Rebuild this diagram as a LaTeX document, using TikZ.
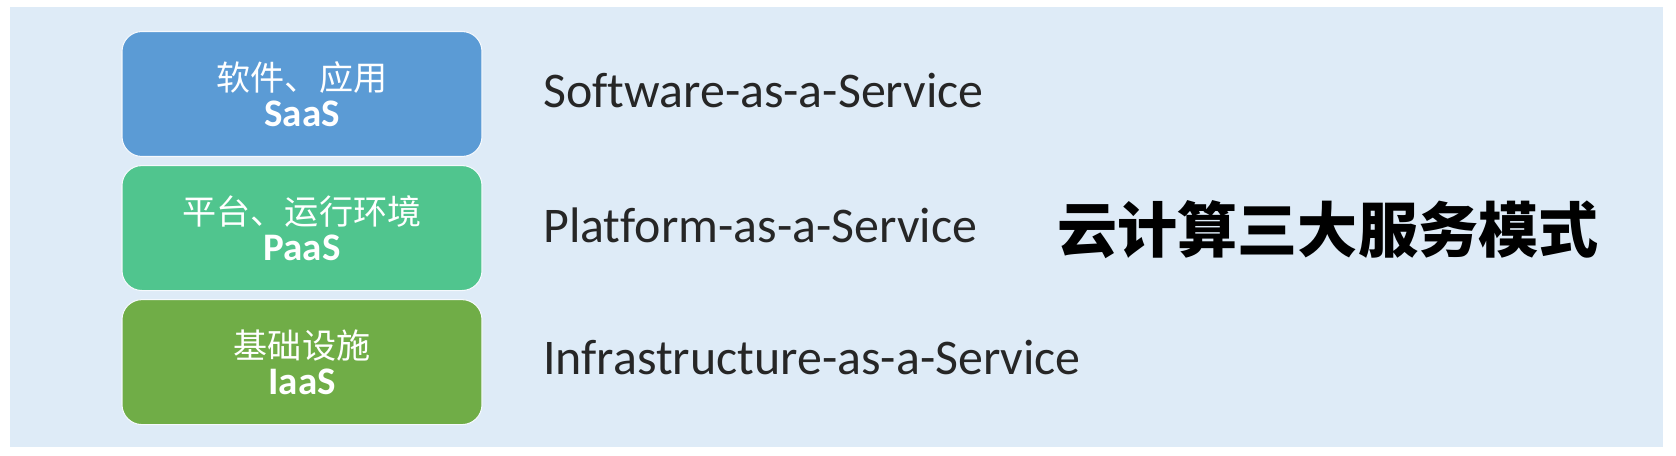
\documentclass[tikz,border=0pt]{standalone}
\usepackage{fontspec}
\setmainfont{Carlito}[Ligatures = NoCommon]
\newfontfamily\cjk{Noto Sans CJK SC}
\usetikzlibrary{positioning}

\definecolor{bgblue}{RGB}{222,235,247}
\definecolor{saasblue}{RGB}{91,155,213}
\definecolor{paasgreen}{RGB}{80,197,142}
\definecolor{iaasgreen}{RGB}{112,173,71}
\definecolor{textgrey}{RGB}{38,38,38}

\tikzset{
  layer/.style = {rounded corners = 0.2cm, minimum width = 3.6cm, minimum height = 1.25cm,
                  draw = white!70!bgblue, line width = 0.3pt, text = white, align = center,
                  inner sep = 0pt, font = \fontsize{10}{10.2}\selectfont},
  fullname/.style = {anchor = base west, inner sep = 0pt, text = textgrey,
                     font = \fontsize{14.2}{16}\selectfont}
}

% two lines inside a layer box
\newcommand{\layertext}[2]{{\cjk\fontsize{9.7}{10.2}\selectfont #1}\\{\bfseries\fontsize{11.1}{10.2}\selectfont #2}}

\begin{document}
\begin{tikzpicture}
        \useasboundingbox (0,0) rectangle (16.76,4.56);
        \fill[bgblue] (0.10,0.09) rectangle (16.63,4.49);

        % the three layers
        \node[layer, fill = saasblue] (saas) at (3.02,3.62) {\layertext{软件、应用}{SaaS}};
        \node[layer, fill = paasgreen, below = 0.08cm of saas] (paas) {\layertext{平台、运行环境}{PaaS}};
        \node[layer, fill = iaasgreen, below = 0.08cm of paas] (iaas) {\layertext{基础设施}{IaaS}};

        \node[fullname] (saasname) at (5.425,3.483) {Software-as-a-Service};
        \node[fullname] (paasname) at (5.425,2.133) {Platform-as-a-Service};
        \node[fullname] (iaasname) at (5.425,0.81) {Infrastructure-as-a-Service};

        \node[font = \cjk\bfseries\fontsize{17.1}{20}\selectfont] (title) at (13.28,2.26) {云计算三大服务模式};
\end{tikzpicture}
\end{document}
